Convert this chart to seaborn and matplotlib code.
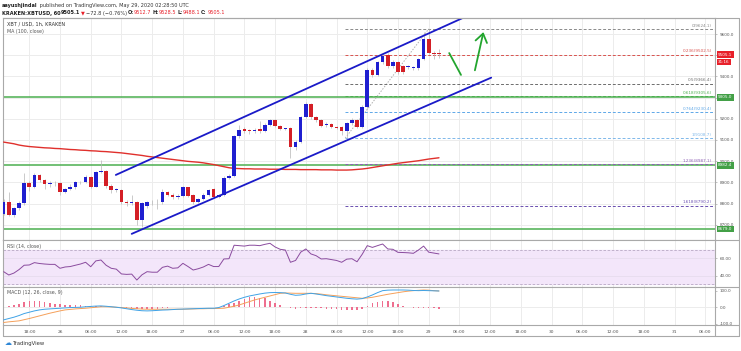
import numpy as np
import pandas as pd
import seaborn as sns
import matplotlib
matplotlib.use("Agg")
import matplotlib.pyplot as plt
from matplotlib.lines import Line2D

# hourly candles, hours counted from May 26 00:00 (UTC)
hours = list(range(-11, 75))

opens = [8751, 8809, 8746, 8778, 8801, 8896, 8880, 8935, 8911, 8893, 8897,
         8896, 8853, 8869, 8877, 8900, 8900, 8927, 8880, 8951, 8954,
         8885, 8864, 8866, 8809, 8801, 8805, 8723, 8790, 8805, 8807,
         8808, 8853, 8841, 8830, 8836, 8877, 8840, 8809, 8820, 8841,
         8869, 8833, 8840, 8922, 8932, 9119, 9152, 9144, 9143, 9152,
         9140, 9171, 9194, 9166, 9152, 9155, 9066, 9092, 9210, 9270,
         9210, 9194, 9170, 9175, 9163, 9163, 9140, 9179, 9195, 9163,
         9257, 9430, 9407, 9466, 9501, 9449, 9468, 9449, 9446, 9441,
         9438, 9480, 9575, 9512, 9512.7]
highs = [8820, 8856, 8785, 8810, 8943, 8905, 8945, 8940, 8916, 8908, 8905,
         8900, 8875, 8890, 8905, 8908, 8935, 8930, 8955, 9006, 8958,
         8890, 8872, 8870, 8815, 8840, 8810, 8806, 8812, 8815, 8820,
         8870, 8860, 8848, 8843, 8882, 8880, 8845, 8828, 8848, 8870,
         8873, 8846, 8930, 8940, 9125, 9170, 9160, 9150, 9155, 9190,
         9178, 9200, 9198, 9172, 9158, 9160, 9098, 9215, 9280, 9275,
         9215, 9200, 9185, 9180, 9168, 9168, 9185, 9203, 9200, 9265,
         9440, 9438, 9472, 9505, 9510, 9475, 9472, 9455, 9452, 9447,
         9485, 9610, 9624.1, 9520, 9528.5]
lows = [8745, 8740, 8738, 8770, 8795, 8860, 8875, 8900, 8870, 8880, 8885,
        8840, 8848, 8862, 8870, 8890, 8895, 8872, 8876, 8945, 8875,
        8850, 8856, 8800, 8790, 8795, 8700, 8691, 8780, 8795, 8775,
        8800, 8835, 8820, 8822, 8830, 8830, 8800, 8803, 8815, 8836,
        8828, 8828, 8836, 8915, 8926, 9110, 9135, 9130, 9135, 9132,
        9136, 9165, 9160, 9145, 9145, 9014, 9055, 9088, 9205, 9200,
        9185, 9160, 9160, 9155, 9150, 9125, 9108.7, 9172, 9155, 9158,
        9250, 9395, 9400, 9460, 9440, 9440, 9410, 9412, 9435, 9432,
        9432, 9475, 9505, 9480, 9488.1]
closes = [8809, 8746, 8778, 8801, 8896, 8880, 8935, 8911, 8893, 8897, 8896,
          8853, 8869, 8877, 8900, 8900, 8927, 8880, 8951, 8954, 8885,
          8864, 8866, 8809, 8801, 8805, 8723, 8801, 8805, 8807, 8808,
          8853, 8841, 8830, 8836, 8877, 8836, 8809, 8820, 8841, 8864,
          8833, 8840, 8922, 8932, 9119, 9147, 9144, 9143, 9147, 9140,
          9171, 9194, 9166, 9152, 9152, 9066, 9092, 9210, 9270, 9210,
          9194, 9166, 9175, 9163, 9158, 9140, 9179, 9195, 9163, 9257,
          9430, 9407, 9466, 9496, 9449, 9466, 9419, 9422, 9446, 9441,
          9480, 9575, 9512, 9506, 9505.1]
ma100 = [9090, 9086, 9082, 9076, 9072, 9069, 9067, 9065, 9063, 9062, 9060,
         9059, 9057, 9055, 9054, 9052, 9051, 9049, 9048, 9046, 9045,
         9043, 9041, 9039, 9036, 9033, 9030, 9027, 9023, 9020, 9017,
         9014, 9011, 9008, 9005, 9002, 8999, 8997, 8995, 8992, 8988,
         8984, 8979, 8974, 8969, 8966, 8965, 8964, 8964, 8963, 8963,
         8963, 8962, 8962, 8962, 8961, 8961, 8961, 8960, 8960, 8960,
         8960, 8959, 8959, 8959, 8958, 8958, 8958, 8959, 8961, 8963,
         8966, 8970, 8974, 8978, 8982, 8986, 8990, 8993, 8996, 8999,
         9002, 9006, 9010, 9013, 9016]
rsi = [44.6, 40.8, 43, 47, 52, 52.3, 55, 54, 53.4, 53, 53,
       48.5, 50, 50.5, 52, 53.4, 55.4, 50.3, 57, 58, 52,
       48.5, 47.5, 42, 41.5, 41.8, 35, 41, 44.6, 44, 44,
       49.6, 51, 48.5, 49, 54.2, 50.5, 46.5, 48, 50, 53,
       50.5, 50.5, 59.2, 59.5, 75, 74.5, 74, 75, 75, 74.5,
       76, 77.2, 73, 70.3, 69.5, 55.4, 57.5, 67, 70.7, 65,
       63, 59.2, 59.5, 58.5, 57.5, 55.4, 59, 59.5, 56, 64.5,
       74.5, 72.5, 74.5, 76.4, 70.7, 70.3, 66.8, 66.6, 66.3, 65.7,
       69.5, 74, 67, 66, 65]
macd = [-76, -68, -60, -50, -38, -30, -22, -16, -12, -10, -8,
        -6, -4, -2, -1, 0, 3, 5, 7, 8, 6,
        3, 0, -4, -9, -14, -18, -21, -22, -21, -19,
        -17, -16, -14, -12, -11, -10, -9, -8, -7, -6,
        -6, -2, 10, 24, 38, 50, 60, 68, 74, 80,
        85, 88, 89, 88, 86, 78, 72, 74, 80, 84,
        80, 75, 70, 66, 62, 58, 54, 51, 49, 52,
        62, 74, 88, 100, 103, 104, 104, 104, 103, 101,
        100, 101, 100, 99, 98]
signal = [-92, -88, -85, -82, -75, -68, -60, -52, -44, -36, -29,
          -22, -16, -13, -10, -8, -6, -3, 0, 3, 3,
          2, 0, -2, -4, -7, -9, -11, -12, -12, -12,
          -12, -12, -12, -12, -12, -11, -10, -9, -9, -8,
          -8, -7, -6, 0, 6, 14, 24, 34, 44, 52,
          60, 68, 76, 84, 86, 85, 84, 84, 84, 84,
          82, 79, 75, 72, 69, 66, 63, 60, 57, 54,
          56, 60, 66, 72, 78, 83, 88, 93, 97, 100,
          102, 104, 103, 100, 98]
hist = [4, 6, 16, 20, 30, 38, 40, 38, 34, 26, 22,
        20, 16, 14, 12, 12, 10, 8, 8, 8, 4,
        2, 0, -2, -4, -6, -10, -12, -12, -10, -8,
        -4, -2, 2, 2, 4, 4, 2, 2, 2, 2,
        2, 4, 10, 18, 24, 36, 50, 62, 64, 58,
        54, 40, 26, 14, 2, -6, -8, -6, -4, -4,
        -6, -6, -8, -10, -12, -16, -16, -18, -16, -8,
        10, 24, 34, 40, 40, 34, 22, 10, 4, -2,
        -4, -4, -6, -6, -8]

tick_labels = ["18:00", "26", "06:00", "12:00", "18:00", "27", "06:00", "12:00",
               "18:00", "28", "06:00", "12:00", "18:00", "29", "06:00", "12:00",
               "18:00", "30", "06:00", "12:00", "18:00", "31", "06:00"]
price_ticks = [8700, 8800, 8900, 9000, 9100, 9200, 9300, 9400, 9500, 9600]
# 9300 and 9500 sit under the price boxes, so their labels stay empty
price_tick_labels = ["8700.0", "8800.0", "8900.0", "9000.0", "9100.0", "9200.0", "",
                     "9400.0", "", "9600.0"]

fib_ratios = ["0", "0.236", "0.5", "0.618", "0.764", "1", "1.236", "1.618"]
fib_prices = [9624.1, 9502.5, 9366.4, 9305.6, 9230.4, 9108.7, 8987.1, 8790.2]
fib_colors = ["#8a8a8a", "#d9534f", "#6d6d6d", "#4caf50", "#5fa8e8", "#7fb8ea", "#8e5fb5", "#6a4fb0"]

support_levels = [9305.0, 8982.4, 8679.0]

# channel + arrows (hour, price)
upper_channel = ([10.9, 78.5], [8935, 9674])
lower_channel = ([14.0, 84.2], [8657, 9394])
arrow_down = ([76.0, 78.3], [9510, 9407])
arrow_up = ([80.9, 82.8], [9416, 9622])

df = pd.DataFrame({"hour": hours, "open": opens, "high": highs, "low": lows,
                   "close": closes, "ma": ma100, "rsi": rsi, "macd": macd,
                   "signal": signal, "hist": hist})

sns.set_theme(style="white")
plt.rcParams["font.family"] = ["DejaVu Sans"]

W, H = 741, 351
fig = plt.figure(figsize=(W / 100, H / 100), dpi=100)
fig.patch.set_facecolor("white")

def rect(x0, y0, x1, y1):
    return [x0 / W, 1 - y1 / H, (x1 - x0) / W, (y1 - y0) / H]

ax = fig.add_axes(rect(3, 18, 715, 240))
ax_rsi = fig.add_axes(rect(3, 240, 715, 287), sharex=ax)
ax_macd = fig.add_axes(rect(3, 287, 715, 325), sharex=ax)

xmin, xmax = -11.13, 127.9
tick_hours = np.arange(-6, 127, 6)
grid_c = "#ececec"
frame_c = "#a9a9a9"

for a in (ax, ax_rsi, ax_macd):
    a.set_facecolor("white")
    for s in a.spines.values():
        s.set_color(frame_c)
        s.set_linewidth(0.8)
    a.set_xlim(xmin, xmax)
    a.set_xticks(tick_hours)
    for h in tick_hours:
        a.axvline(h, color=grid_c, lw=0.7, zorder=0)
    a.yaxis.tick_right()
    a.tick_params(axis="y", direction="out", length=1.5, width=0.5, color=frame_c,
                  labelsize=3.0, labelcolor="#555555", pad=2)

ax.tick_params(axis="x", length=0, labelbottom=False)
ax_rsi.tick_params(axis="x", length=0, labelbottom=False)
ax_macd.tick_params(axis="x", length=1.2, width=0.5, color=frame_c, labelsize=3.2,
                    labelcolor="#555555", pad=2.2)
ax_macd.set_xticklabels(tick_labels)

# ---- main price panel
ax.set_ylim(8628, 9675.5)
ax.set_yticks(price_ticks)
ax.set_yticklabels(price_tick_labels)
for p in price_ticks:
    ax.axhline(p, color=grid_c, lw=0.7, zorder=0)

for lvl in support_levels:
    ax.axhline(lvl, color="#4caf50", lw=1.1, zorder=2)

sns.lineplot(data=df, x="hour", y="ma", ax=ax, color="#e0302c", lw=1.0, zorder=3)

up = df[df["close"] >= df["open"]]
dn = df[df["close"] < df["open"]]
ax.vlines(df["hour"], df["low"], df["high"], color="#b5b5b5", lw=0.5, zorder=3)
ax.bar(up["hour"], np.maximum(up["close"] - up["open"], 2.5), bottom=up["open"],
       width=0.7, color="#1f1fd0", zorder=4, linewidth=0)
ax.bar(dn["hour"], np.maximum(dn["open"] - dn["close"], 2.5), bottom=dn["close"],
       width=0.7, color="#d41f26", zorder=4, linewidth=0)

# fib retracement
ax.plot([55.7, 72.0], [9108.7, 9624.1], color="#b0b0b0", lw=0.7, ls=(0, (1.5, 1.5)), zorder=2)
for r, p, c in zip(fib_ratios, fib_prices, fib_colors):
    ax.plot([55.7, xmax], [p, p], color=c, lw=0.7, ls=(0, (3, 2)), zorder=2)
    ax.text(127.3, p + 6, f"{r}({p:.1f})", color=c, fontsize=3.0, ha="right", va="bottom", zorder=5)

ax.plot(*upper_channel, color="#1a1ac8", lw=1.3, zorder=5)
ax.plot(*lower_channel, color="#1a1ac8", lw=1.3, zorder=5)
ax.plot(*arrow_down, color="#22a52e", lw=1.3, zorder=5, solid_capstyle="round")
ax.annotate("", xy=(arrow_up[0][1], arrow_up[1][1]), xytext=(arrow_up[0][0], arrow_up[1][0]),
            arrowprops=dict(arrowstyle="->,head_length=0.5,head_width=0.35", color="#22a52e", lw=1.3),
            zorder=5)

ax.text(0.005, 0.985, "XBT / USD, 1h, KRAKEN", transform=ax.transAxes, fontsize=3.6,
        color="#333333", va="top")
ax.text(0.005, 0.95, "MA (100, close)", transform=ax.transAxes, fontsize=3.4,
        color="#555555", va="top")

# ---- RSI panel
ax_rsi.set_ylim(27, 81)
ax_rsi.set_yticks([40, 60])
ax_rsi.set_yticklabels(["40.00", "60.00"])
ax_rsi.axhspan(30, 70, color="#f3e6fa", zorder=0)
for v in (40, 60):
    ax_rsi.axhline(v, color="#e6dcee", lw=0.6, zorder=1)
for v in (30, 70):
    ax_rsi.axhline(v, color="#b8a8c4", lw=0.6, ls=(0, (3, 2)), zorder=1)
sns.lineplot(data=df, x="hour", y="rsi", ax=ax_rsi, color="#8a4b9e", lw=0.7, zorder=3)
ax_rsi.text(0.005, 0.92, "RSI (14, close)", transform=ax_rsi.transAxes, fontsize=3.4,
            color="#555555", va="top")

# ---- MACD panel
ax_macd.set_ylim(-107, 122)
ax_macd.set_yticks([-100, 0, 100])
ax_macd.set_yticklabels(["-100.0", "0.0", "100.0"])
ax_macd.axhline(0, color=grid_c, lw=0.7, zorder=0)
ax_macd.bar(df["hour"], df["hist"], width=0.3, color="#ee6f8f", zorder=2, linewidth=0)
sns.lineplot(data=df, x="hour", y="signal", ax=ax_macd, color="#f5a05a", lw=0.7, zorder=3)
sns.lineplot(data=df, x="hour", y="macd", ax=ax_macd, color="#3ea2e6", lw=0.7, zorder=4)
ax_macd.text(0.005, 0.92, "MACD (12, 26, close, 9)", transform=ax_macd.transAxes, fontsize=3.4,
             color="#555555", va="top")

for a in (ax, ax_rsi, ax_macd):
    a.set_xlabel("")
    a.set_ylabel("")
    a.set_xlim(xmin, xmax)

# ---- outer frame
def fline(x0, y0, x1, y1, c=frame_c, lw=0.8):
    fig.add_artist(Line2D([x0 / W, x1 / W], [1 - y0 / H, 1 - y1 / H], color=c, lw=lw))

fline(3, 336, 739, 336)
fline(739, 18, 739, 336)
fline(3, 18, 739, 18)
fline(3, 325, 3, 336)
fline(715, 325, 715, 336)
fline(715, 240, 739, 240)
fline(715, 287, 739, 287)
fline(715, 325, 739, 325)

# ---- price label boxes on the right axis
def price_box(y, s, fc):
    fig.text(718 / W, 1 - y / H, s, fontsize=3.0, color="white", va="center", ha="left",
             bbox=dict(boxstyle="square,pad=0.35", fc=fc, ec="none"))

price_box(54.5, "9505.1", "#e8202a")
price_box(62, "31:16", "#e8202a")
price_box(97.5, "9305.0", "#43a047")
price_box(165.5, "8982.4", "#43a047")
price_box(229, "8679.0", "#43a047")

# ---- header lines
renderer = fig.canvas.get_renderer()

def text_run(x, y, pieces, size=3.6):
    for s, color, weight in pieces:
        t = fig.text(x / W, 1 - y / H, s, fontsize=size, color=color, weight=weight, va="center")
        x = t.get_window_extent(renderer).x1 + 0.6

text_run(2, 5, [("aayushjindal", "#222222", "bold"),
                (" published on TradingView.com, May 29, 2020 02:28:50 UTC", "#333333", "normal")])
text_run(2, 13, [("KRAKEN:XBTUSD, 60", "#222222", "bold"),
                 ("9505.1", "#222222", "bold"),
                 ("▼", "#e8202a", "normal"),
                 ("−72.8 (−0.76%)", "#333333", "normal"),
                 ("O:", "#222222", "bold"), ("9512.7", "#e8202a", "normal"),
                 ("H:", "#222222", "bold"), ("9528.5", "#e8202a", "normal"),
                 ("L:", "#222222", "bold"), ("9488.1", "#e8202a", "normal"),
                 ("C:", "#222222", "bold"), ("9505.1", "#e8202a", "normal")])

fig.text(5 / W, 1 - 343 / H, "☁", fontsize=5, color="#2d86d6", va="center")
fig.text(13 / W, 1 - 343 / H, "TradingView", fontsize=3.8, color="#333333", va="center")

fig.savefig("out.png", dpi=100, facecolor="white")
